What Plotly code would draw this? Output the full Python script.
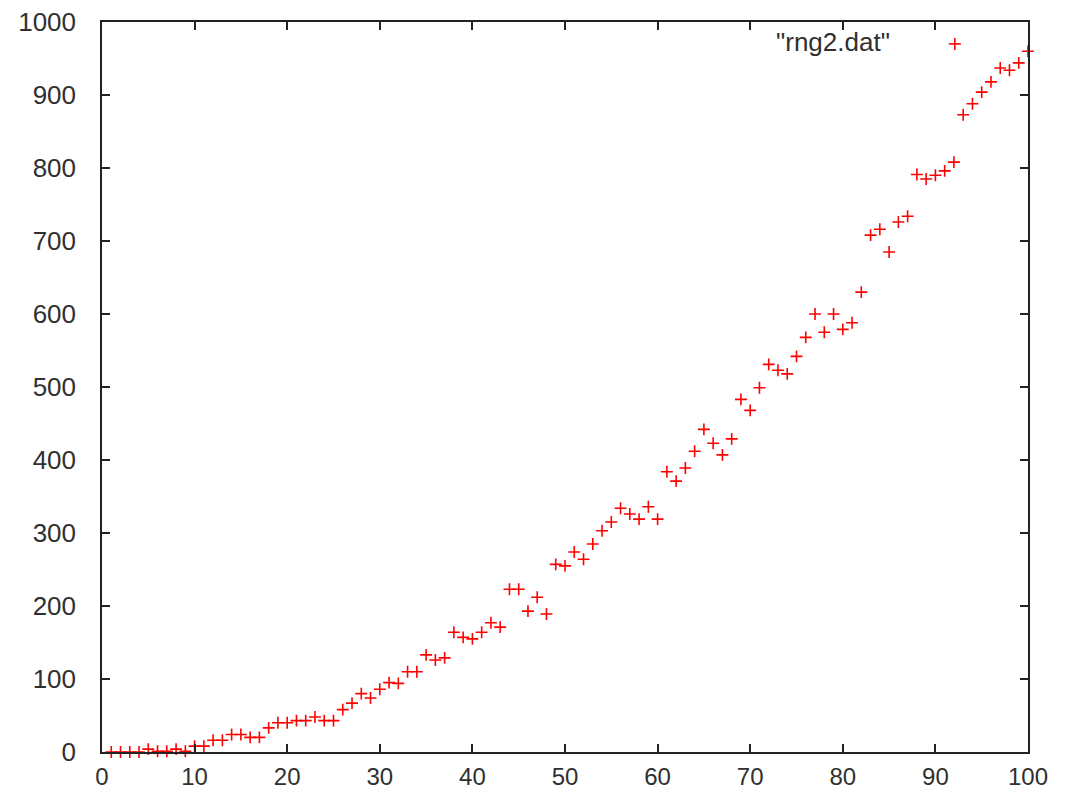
import plotly.graph_objects as go

# Data
x_values = list(range(1, 101))
y_values = [
    0, 0, 0, 0, 4, 1, 1, 4, 1, 8,
    8, 16, 16, 24, 24, 20, 20, 33, 40, 40,
    43, 43, 48, 43, 43, 58, 67, 80, 74, 86,
    95, 94, 110, 110, 133, 126, 129, 164, 157, 155,
    164, 177, 171, 223, 223, 193, 212, 189, 257, 255,
    274, 264, 285, 303, 315, 334, 326, 319, 336, 319,
    384, 371, 389, 412, 442, 423, 407, 429, 483, 468,
    499, 531, 523, 518, 542, 568, 600, 575, 600, 579,
    588, 630, 708, 716, 685, 726, 734, 791, 785, 790,
    796, 808, 873, 888, 904, 918, 937, 934, 944, 960,
]
series_name = '"rng2.dat"'
x_ticks = [0, 10, 20, 30, 40, 50, 60, 70, 80, 90, 100]
y_ticks = [0, 100, 200, 300, 400, 500, 600, 700, 800, 900, 1000]

FONT = "Liberation Sans, Arial, sans-serif"
TXT = "#303030"

fig = go.Figure()
fig.add_trace(go.Scatter(
    x=x_values, y=y_values, mode="markers", name=series_name,
    marker=dict(symbol="cross-thin", size=8.5, color="red",
                line=dict(color="red", width=1.6)),
    showlegend=False, cliponaxis=False,
))

axis_common = dict(
    showgrid=False, zeroline=False, showline=True, linecolor="#222222",
    linewidth=1.5, mirror="ticks", ticks="inside", ticklen=8,
    tickwidth=1.5, tickcolor="#222222", automargin=False,
)

fig.update_layout(
    width=1065, height=793,
    margin=dict(l=102, r=37, t=22, b=41, autoexpand=False),
    paper_bgcolor="white", plot_bgcolor="white",
    xaxis=dict(range=[0, 100], tickvals=x_ticks, ticklabelstandoff=2,
               tickfont=dict(family=FONT, size=24, color=TXT), **axis_common),
    yaxis=dict(range=[0, 1000], tickvals=y_ticks, ticklabelstandoff=19,
               tickfont=dict(family=FONT, size=26, color=TXT), **axis_common),
    showlegend=False,
)

# Gnuplot-style key: text on the left, sample on the right
fig.add_annotation(
    xref="paper", yref="paper", x=0.853, y=0.9726,
    text=series_name, showarrow=False, xanchor="right", yanchor="middle",
    font=dict(family=FONT, size=26, color=TXT),
)
kx, ky = 0.921, 0.970
dx, dy = 6 / 926, 6 / 730
fig.add_shape(type="line", xref="paper", yref="paper",
              x0=kx - dx, x1=kx + dx, y0=ky, y1=ky,
              line=dict(color="red", width=1.6))
fig.add_shape(type="line", xref="paper", yref="paper",
              x0=kx, x1=kx, y0=ky - dy, y1=ky + dy,
              line=dict(color="red", width=1.6))

fig.write_html(
    "out.html",
    config={"displayModeBar": False},
    post_script="document.body.style.margin='0';document.body.style.overflow='hidden';",
)
